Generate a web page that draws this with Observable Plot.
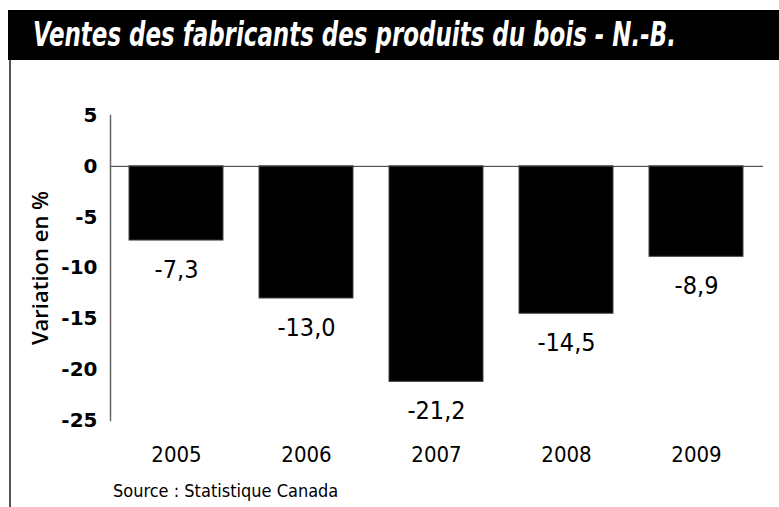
<!DOCTYPE html>
<html><head><meta charset="utf-8">
<script src="https://cdn.jsdelivr.net/npm/d3@7"></script>
<script src="https://cdn.jsdelivr.net/npm/@observablehq/plot@0.6"></script>
<style>
body{margin:0;background:#fff;}
#wrap{position:relative;width:779px;height:507px;overflow:hidden;background:#fff;}
#titlebar{position:absolute;left:8px;top:10px;width:771px;height:50px;background:#000;}
#title{position:absolute;left:25px;top:-1px;color:#fff;display:inline-block;transform-origin:0 50%;
 font-family:"DejaVu Sans",sans-serif;font-stretch:condensed;font-weight:bold;font-style:italic;
 font-size:34px;line-height:50px;white-space:nowrap;}
#border{position:absolute;left:9px;top:60px;width:2px;height:447px;background:#555;}
#chart{position:absolute;left:0;top:60px;}
#source{position:absolute;left:113px;top:480px;font-family:"DejaVu Sans",sans-serif;font-stretch:condensed;font-size:18px;color:#000;}
g[aria-label="y-axis tick label"] text{font-family:"DejaVu Sans",sans-serif;font-weight:bold;font-size:20px;}
g[aria-label="y-axis label"] text{font-family:"Open Sans",sans-serif;font-weight:600;font-size:22px;}
g[aria-label="x-axis tick label"] text{font-family:"DejaVu Sans",sans-serif;font-stretch:condensed;font-size:22px;}
g[aria-label="text"] text{font-stretch:condensed;}
</style></head>
<body>
<div id="wrap">
 <div id="titlebar"><span id="title"></span></div>
 <div id="border"></div>
 <div id="chart"></div>
 <div id="source"></div>
</div>
<script>
const titleText = "Ventes des fabricants des produits du bois - N.-B.";
const sourceText = "Source : Statistique Canada";
const yLabel = "Variation en %";
const years = ["2005","2006","2007","2008","2009"];
const values = [-7.3, -13.0, -21.2, -14.5, -8.9];
const yTicks = [5, 0, -5, -10, -15, -20, -25];

const t = document.getElementById("title");
t.textContent = titleText;
const tw = t.getBoundingClientRect().width;
t.style.transform = `scaleX(${Math.min(1, 643 / tw)})`;
document.getElementById("source").textContent = sourceText;

const data = years.map((y, i) => ({year: y, value: values[i]}));
const fmt = v => v.toFixed(1).replace(".", ",");

const chart = Plot.plot({
  width: 779,
  height: 447,
  marginTop: 55,
  marginBottom: 87,
  marginLeft: 110,
  marginRight: 16,
  style: {background: "transparent", overflow: "visible"},
  x: {domain: years, paddingInner: 0.275, paddingOuter: 0.137},
  y: {domain: [-25, 5]},
  marks: [
    Plot.barY(data, {x: "year", y: "value", fill: "#000", stroke: "#444", strokeWidth: 1}),
    Plot.ruleY([0], {stroke: "#333", strokeWidth: 1}),
    Plot.frame({anchor: "left", stroke: "#666", strokeWidth: 1.5}),
    Plot.text(data, {x: "year", y: "value", text: d => fmt(d.value), dy: 29,
      fontSize: 25, fill: "#000", fontFamily: "'DejaVu Sans',sans-serif"}),
    Plot.axisY({ticks: yTicks, tickSize: 0, tickPadding: 13, tickFormat: d => String(d),
      label: yLabel, labelAnchor: "center", labelOffset: 78, labelArrow: "none"}),
    Plot.axisX({tickSize: 0, tickPadding: 26, label: null})
  ]
});
document.getElementById("chart").appendChild(chart);
</script>
</body></html>
